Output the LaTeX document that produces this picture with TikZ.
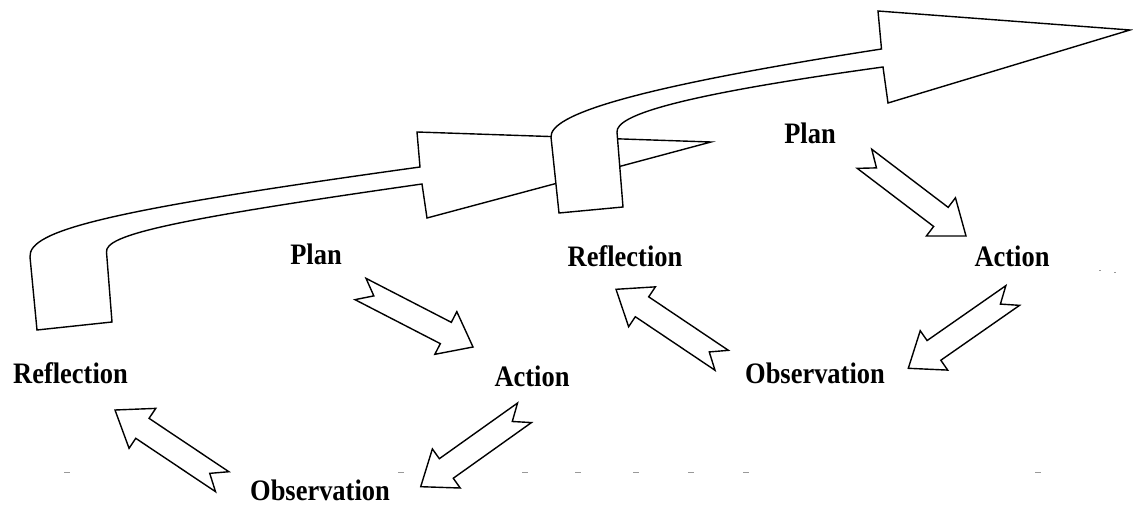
\documentclass[tikz,border=0pt]{standalone}
\usepackage{fontspec}
\usepackage{graphicx}
\setmainfont{Liberation Serif}
\usetikzlibrary{calc}
\newcommand\tallword[1]{\scalebox{0.98}[1.1]{#1}}
\tikzset{
  lbl/.style={font=\fontsize{27}{30}\selectfont\bfseries, anchor=base, inner sep=0pt},
  outl/.style={draw=black, line width=1.4pt, fill=white, line join=miter},
  speck/.style={draw=black!40, line width=0.7pt}
}
\newcommand\cyclearrow[2]{%
  \coordinate (#1-h) at ($(#1)!96pt!(#2)$);
  \coordinate (#1-n) at ($(#1)!15pt!(#2)$);
  \draw[outl] ($(#1)!12pt!90:(#2)$) -- ($(#1-h)!12pt!90:(#2)$) -- ($(#1-h)!24pt!90:(#2)$)
    -- (#2) -- ($(#1-h)!24pt!-90:(#2)$) -- ($(#1-h)!12pt!-90:(#2)$)
    -- ($(#1)!12pt!-90:(#2)$) -- (#1-n) -- cycle;
}
\begin{document}
\begin{tikzpicture}[x=1pt,y=-1pt]
\useasboundingbox (0,0) rectangle (1133,505);
% big curved arrows
\draw[outl] (417,132) -- (711,142) -- (427,218) -- (422,184)
  .. controls (170,220) and (105,235) .. (106.5,252) -- (112,322) -- (37,330) -- (30,257)
  .. controls (28,230) and (110,210) .. (420,167) -- cycle;
\draw[outl] (878,11) -- (1130,30) -- (888,103) -- (883,67)
  .. controls (680,95) and (616,115) .. (617,132) -- (623,207) -- (559,213) -- (551,137)
  .. controls (550,115) and (630,88) .. (881.5,49) -- cycle;
% labels
\node[lbl] (refl1) at (70.5,383) {\tallword{Reflection}};
\node[lbl] (plan1) at (316,265) {\tallword{Plan}};
\node[lbl] (act1) at (532,386) {\tallword{Action}};
\node[lbl] (obs1) at (320,500) {\tallword{Observation}};
\node[lbl] (refl2) at (625,266) {\tallword{Reflection}};
\node[lbl] (obs2) at (815,383) {\tallword{Observation}};
\node[lbl] (plan2) at (810,144) {\tallword{Plan}};
\node[lbl] (act2) at (1012,267) {\tallword{Action}};
% cycle arrows
\coordinate (pa1) at (360.5,289);   \coordinate (pa2) at (473,347);
\coordinate (ao1) at (524.5,412.8); \coordinate (ao2) at (420.7,486.7);
\coordinate (or1) at (222.2,481.7); \coordinate (or2) at (115,410);
\coordinate (or3) at (721.7,360.3); \coordinate (or4) at (616,289.3);
\coordinate (pa3) at (864.5,158.8); \coordinate (pa4) at (966,236);
\coordinate (ao3) at (1012.7,295.5);\coordinate (ao4) at (908.3,368.3);
\cyclearrow{pa1}{pa2}
\cyclearrow{ao1}{ao2}
\cyclearrow{or1}{or2}
\cyclearrow{or3}{or4}
\cyclearrow{pa3}{pa4}
\cyclearrow{ao3}{ao4}
% scan specks
\foreach \sx in {67,401,525,578,636,691,746,1038}
  \draw[speck] (\sx-3,472) -- (\sx+3,472);
\draw[speck] (1099,270) -- (1101,270);
\draw[speck] (1114,272) -- (1116,272);
\end{tikzpicture}
\end{document}
